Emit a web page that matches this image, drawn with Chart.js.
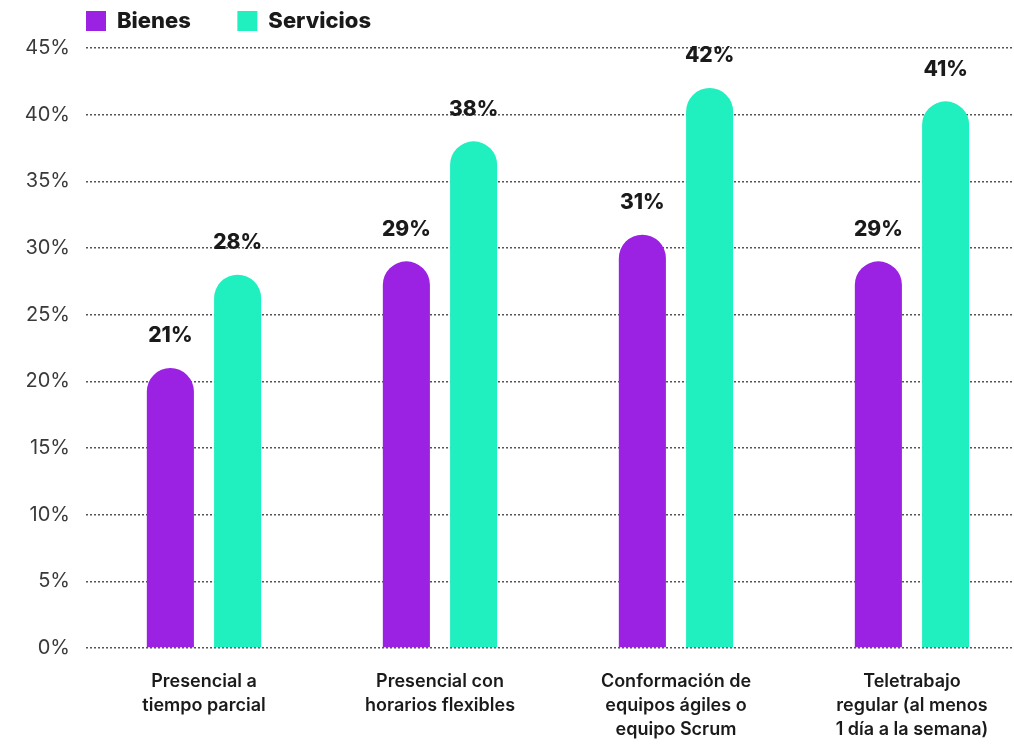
<!DOCTYPE html>
<html>
<head>
<meta charset="utf-8">
<script src="https://cdn.jsdelivr.net/npm/chart.js@4.4.0/dist/chart.umd.min.js"></script>
<style>
  html, body { margin: 0; padding: 0; background: #fff; overflow: hidden; }
  #wrap { width: 1030px; height: 748px; }
</style>
</head>
<body>
<div id="wrap"><canvas id="chart"></canvas></div>
<script>
const categories = [
  ['Presencial a', 'tiempo parcial'],
  ['Presencial con', 'horarios flexibles'],
  ['Conformación de', 'equipos ágiles o', 'equipo Scrum'],
  ['Teletrabajo', 'regular (al menos', '1 día a la semana)']
];
const bienes = [21, 29, 31, 29];
const servicios = [28, 38, 42, 41];
const seriesNames = ['Bienes', 'Servicios'];

const FONT = 'Inter, "Open Sans", sans-serif';

// value labels above each bar
const valueLabels = {
  id: 'valueLabels',
  afterDatasetsDraw(chart) {
    const ctx = chart.ctx;
    ctx.save();
    ctx.font = '800 21px ' + FONT;
    ctx.fillStyle = '#1a1a1a';
    ctx.textAlign = 'center';
    ctx.textBaseline = 'middle';
    chart.data.datasets.forEach((ds, i) => {
      chart.getDatasetMeta(i).data.forEach((bar, j) => {
        ctx.fillText(ds.data[j] + '%', bar.x, bar.y - 32);
      });
    });
    ctx.restore();
  }
};

// legend tweaks: a bit more room below it, and start it at the plot's left edge
const legendTweak = {
  id: 'legendTweak',
  beforeLayout(chart) {
    const lg = chart.legend;
    if (lg && !lg._patched) {
      const fit = lg.fit;
      lg.fit = function () { fit.call(this); this.height += 6; };
      lg._patched = true;
    }
  },
  afterLayout(chart) {
    chart.legend.left = chart.chartArea.left - 8;
  }
};

new Chart(document.getElementById('chart'), {
  type: 'bar',
  data: {
    labels: categories,
    datasets: [
      {
        label: seriesNames[0],
        data: bienes,
        backgroundColor: '#9b22e2',
        borderWidth: 0,
        borderRadius: 24,
        barPercentage: 0.7,
        categoryPercentage: 0.57
      },
      {
        label: seriesNames[1],
        data: servicios,
        backgroundColor: '#20efbf',
        borderWidth: 0,
        borderRadius: 24,
        barPercentage: 0.7,
        categoryPercentage: 0.57
      }
    ]
  },
  options: {
    responsive: true,
    maintainAspectRatio: false,
    animation: false,
    layout: { padding: { top: 2, left: 0, right: 0, bottom: 0 } },
    plugins: {
      legend: {
        position: 'top',
        align: 'start',
        labels: {
          boxWidth: 20,
          boxHeight: 20,
          padding: 8,
          color: '#1a1a1a',
          font: { family: FONT, size: 22, weight: '800' },
          // widen the gap between the two items
          generateLabels(chart) {
            const items = Chart.defaults.plugins.legend.labels.generateLabels(chart);
            items[0].text = items[0].text + '        ';
            return items;
          }
        }
      },
      tooltip: { enabled: false }
    },
    scales: {
      x: {
        grid: { display: false },
        border: { display: false },
        ticks: {
          color: '#1a1a1a',
          padding: 13,
          maxRotation: 0,
          font: { family: FONT, size: 18, weight: '600', lineHeight: 1.35 }
        },
        afterFit: scale => { scale.height = 100; }
      },
      y: {
        z: 1,
        min: 0,
        max: 45,
        border: { display: false, dash: [2, 2] },
        grid: {
          color: '#555',
          lineWidth: 1.5,
          drawTicks: false
        },
        ticks: {
          stepSize: 5,
          padding: 16,
          color: '#3a3a3a',
          font: { family: FONT, size: 20 },
          callback: v => v + '%'
        },
        afterFit: scale => { scale.width = 86; }
      }
    }
  },
  plugins: [valueLabels, legendTweak]
});
</script>
</body>
</html>
